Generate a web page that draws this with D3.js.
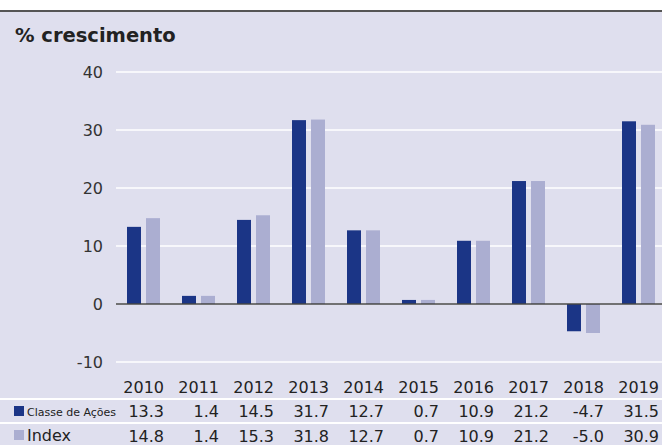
<!DOCTYPE html>
<html>
<head>
<meta charset="utf-8">
<script src="https://cdn.jsdelivr.net/npm/d3@7/dist/d3.min.js"></script>
<style>
  body { margin: 0; background: #fff; }
  svg { display: block; font-family: "DejaVu Sans", sans-serif; }
</style>
</head>
<body>
<script>
var years = ["2010", "2011", "2012", "2013", "2014", "2015", "2016", "2017", "2018", "2019"];
var classe = [13.3, 1.4, 14.5, 31.7, 12.7, 0.7, 10.9, 21.2, -4.7, 31.5];
var index = [14.8, 1.4, 15.3, 31.8, 12.7, 0.7, 10.9, 21.2, -5.0, 30.9];
var yTicks = [-10, 0, 10, 20, 30, 40];

var width = 662, height = 445;
var dark = "#1b3586", light = "#abaed1", bg = "#dfdfee";

var svg = d3.select("body").append("svg").attr("width", width).attr("height", height);

// fundo
svg.append("rect").attr("x", 0).attr("y", 11).attr("width", width).attr("height", height - 11).attr("fill", bg);
svg.append("rect").attr("x", 0).attr("y", 10).attr("width", width).attr("height", 2).attr("fill", "#555");

svg.append("text").text("% crescimento")
    .attr("x", 15).attr("y", 42)
    .attr("font-size", 19.5).attr("font-weight", "bold").attr("fill", "#222");

var x = d3.scaleBand().domain(years).range([116, 666]);
var y = d3.scaleLinear().domain([-10, 40]).range([362, 72]);

// grelha
svg.selectAll("line.grid").data(yTicks).enter().append("line")
    .attr("class", "grid")
    .attr("x1", 116).attr("x2", width)
    .attr("y1", function (d) { return y(d); })
    .attr("y2", function (d) { return y(d); })
    .attr("stroke", "#fff").attr("stroke-width", 1.5);

svg.selectAll("text.ytick").data(yTicks).enter().append("text")
    .attr("class", "ytick")
    .text(function (d) { return d; })
    .attr("x", 103).attr("y", function (d) { return y(d) + 6; })
    .attr("text-anchor", "end").attr("font-size", 16).attr("fill", "#333");

// barras
svg.selectAll("rect.c").data(classe).enter().append("rect")
    .attr("class", "c")
    .attr("x", function (d, i) { return x(years[i]) + 11; })
    .attr("width", 14)
    .attr("y", function (d) { return y(Math.max(0, d)); })
    .attr("height", function (d) { return Math.abs(y(d) - y(0)); })
    .attr("fill", dark);

svg.selectAll("rect.ix").data(index).enter().append("rect")
    .attr("class", "ix")
    .attr("x", function (d, i) { return x(years[i]) + 30; })
    .attr("width", 14)
    .attr("y", function (d) { return y(Math.max(0, d)); })
    .attr("height", function (d) { return Math.abs(y(d) - y(0)); })
    .attr("fill", light);

svg.append("line").attr("x1", 116).attr("x2", width)
    .attr("y1", y(0)).attr("y2", y(0))
    .attr("stroke", "#444").attr("stroke-width", 1.5);

// tabela
svg.selectAll("line.sep").data([399, 423]).enter().append("line")
    .attr("class", "sep")
    .attr("x1", 0).attr("x2", width)
    .attr("y1", function (d) { return d; }).attr("y2", function (d) { return d; })
    .attr("stroke", "#fff").attr("stroke-width", 2);

function colRight(i) { return x(years[i]) + x.bandwidth() / 2 + 20.5; }

svg.selectAll("text.yr").data(years).enter().append("text")
    .attr("class", "yr").text(function (d) { return d; })
    .attr("x", function (d, i) { return colRight(i); }).attr("y", 393)
    .attr("text-anchor", "end").attr("font-size", 16).attr("fill", "#222");

[[classe, 417], [index, 442]].forEach(function (row) {
    svg.append("g").selectAll("text").data(row[0]).enter().append("text")
        .text(function (d) { return d.toFixed(1); })
        .attr("x", function (d, i) { return colRight(i); }).attr("y", row[1])
        .attr("text-anchor", "end").attr("font-size", 16).attr("fill", "#222");
});

// legenda
svg.append("rect").attr("x", 14).attr("y", 406).attr("width", 10).attr("height", 10).attr("fill", dark);
svg.append("text").text("Classe de Ações").attr("x", 27).attr("y", 416)
    .attr("font-size", 11).attr("fill", "#222");
svg.append("rect").attr("x", 14).attr("y", 430).attr("width", 10).attr("height", 10).attr("fill", light);
svg.append("text").text("Index").attr("x", 27).attr("y", 441)
    .attr("font-size", 16).attr("fill", "#222");
</script>
</body>
</html>
